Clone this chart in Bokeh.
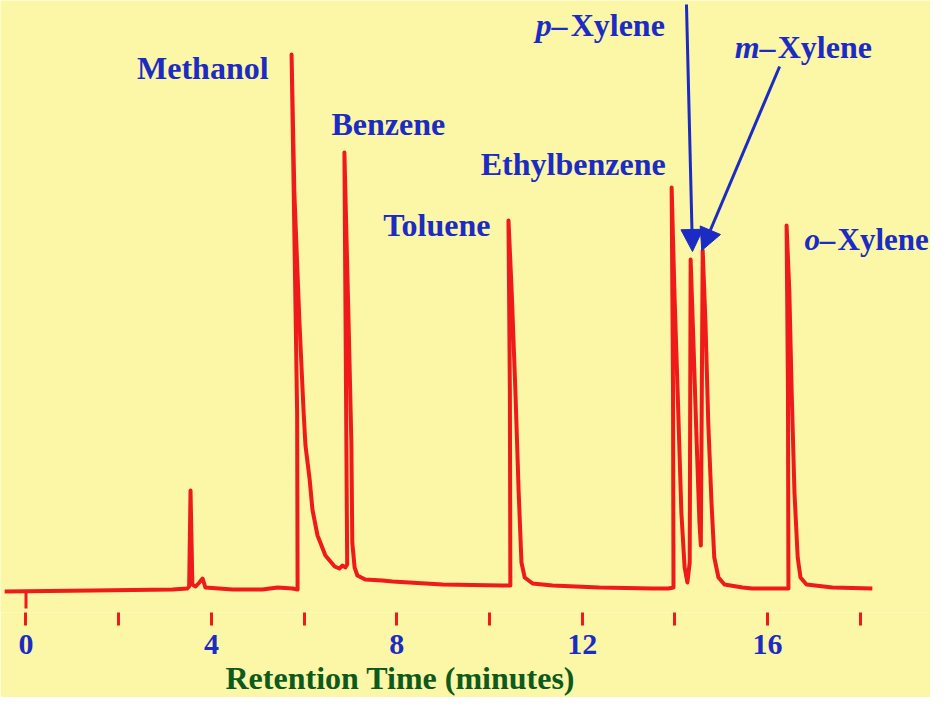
from bokeh.plotting import figure
from bokeh.models import Range1d, FixedTicker, Label, Arrow, NormalHead, Title
from bokeh.embed import file_html
from bokeh.resources import INLINE

# ---------------- data ----------------
# detector trace: retention time (min) and signal (arbitrary units, baseline = 0)
TRACE_TIME = [
    -0.46, 1.43, 3.16, 3.48, 3.52, 3.55, 3.59, 3.66, 3.74, 3.81, 3.87, 4.46, 5.10, 5.43, 5.75,
    5.86, 5.85, 5.73, 5.79, 5.90, 5.99, 6.03, 6.12, 6.18, 6.29, 6.46, 6.66, 6.76, 6.83, 6.89,
    6.93, 6.87, 6.96, 7.02, 7.04, 7.09, 7.15, 7.32, 7.69, 7.91, 8.99, 10.28,
    10.45, 10.44, 10.41, 10.48, 10.56, 10.63, 10.69, 10.76, 10.93, 11.36, 12.37, 13.52, 13.86,
    13.97, 13.96, 13.93, 13.99, 14.06, 14.14, 14.21, 14.27,
    14.32, 14.34, 14.40, 14.47, 14.53, 14.56,
    14.60, 14.66, 14.72, 14.79, 14.85, 14.94, 15.07, 15.46, 15.67,
    16.45, 16.44, 16.41, 16.47, 16.52, 16.58, 16.65, 16.71, 16.84, 17.40, 18.26,
]
TRACE_SIGNAL = [
    0, 1, 2, 3, 5, 101, 7, 5, 9, 13, 4, 2, 2, 4, 3,
    2, 179, 537, 399, 269, 179, 146, 112, 82, 56, 36, 25, 23, 26, 24,
    27, 439, 269, 149, 49, 24, 16, 12, 11, 10, 7, 6,
    6, 199, 371, 299, 199, 99, 29, 14, 8, 6, 4, 3, 3,
    4, 199, 404, 299, 199, 79, 24, 9,
    29, 332, 249, 149, 69, 46,
    341, 269, 169, 89, 34, 14, 7, 4, 3,
    3, 199, 366, 299, 199, 99, 34, 14, 7, 4, 3,
]

# identified peaks
PEAK_NAMES = ["Methanol", "Benzene", "Toluene", "Ethylbenzene", "p-Xylene", "m-Xylene", "o-Xylene"]
PEAK_TIMES = [5.73, 6.87, 10.41, 13.93, 14.34, 14.60, 16.41]
PEAK_HEIGHTS = [537, 439, 371, 404, 332, 341, 366]

# axis
TICK_VALUES = [0, 2, 4, 6, 8, 10, 12, 14, 16, 18]
TICK_LABELS = ["0", "", "4", "", "8", "", "12", "", "16", ""]
INJECTION_TIME = [0]
X_TITLE = "Retention Time (minutes)"

# ---------------- styling ----------------
YELLOW = "#fbf7a6"
RED = "#ef1a1a"
BLUE = "#1b2bc4"
GREEN = "#0d5a1c"
FONT = "Liberation Serif"

p = figure(width=930, height=697,
           x_range=Range1d(-0.55, 19.515), y_range=Range1d(-21, 591),
           output_backend="svg", toolbar_location=None, y_axis_location=None,
           min_border_left=0, min_border_right=0, min_border_top=0, min_border_bottom=85,
           background_fill_color=YELLOW, border_fill_color=YELLOW, outline_line_color=None)
p.grid.visible = False

ax = p.xaxis[0]
ax.ticker = FixedTicker(ticks=TICK_VALUES)
ax.major_label_overrides = {v: s for v, s in zip(TICK_VALUES, TICK_LABELS)}
ax.axis_line_color = None
ax.major_tick_line_color = RED
ax.major_tick_line_width = 3
ax.major_tick_out = 13
ax.major_tick_in = 0
ax.minor_tick_line_color = None
ax.major_label_text_font = FONT
ax.major_label_text_font_style = "bold"
ax.major_label_text_font_size = "30px"
ax.major_label_text_color = BLUE
ax.major_label_standoff = 9

# axis title, placed in the panel below the axis
p.add_layout(Title(text=X_TITLE, align="left", offset=225, standoff=2,
                   text_font=FONT, text_font_style="bold", text_font_size="32px",
                   text_color=GREEN), "below")

# injection marker from baseline down toward the axis
p.segment(x0=INJECTION_TIME, y0=[0], x1=INJECTION_TIME, y1=[-17],
          line_color=RED, line_width=3)

# chromatogram trace
p.line(TRACE_TIME, TRACE_SIGNAL, line_color=RED, line_width=4, line_join="round")

# peak labels: (peak index, text, style, size, align, x offset px, y offset px)
LABEL_LAYOUT = [
    (0, "Methanol", "bold", "32px", "right", -23, -13),
    (1, "Benzene", "bold", "32px", "left", -13, 29),
    (2, "Toluene", "bold", "32px", "right", -18, -4),
    (3, "Ethylbenzene", "bold", "32px", "right", -6, 24),
    (4, "p\u2013", "bold italic", "32px", "right", -123, 235),
    (4, "Xylene", "bold", "32px", "left", -120, 235),
    (5, "m\u2013", "bold italic", "32px", "right", 73, 204),
    (5, "Xylene", "bold", "32px", "left", 75, 204),
    (6, "o\u2013", "bold italic", "31px", "right", 49, -14),
    (6, "Xylene", "bold", "31px", "left", 51, -14),
]
for i, txt, style, size, align, dx, dy in LABEL_LAYOUT:
    p.add_layout(Label(x=PEAK_TIMES[i], y=PEAK_HEIGHTS[i], x_offset=dx, y_offset=dy,
                       text=txt, text_align=align, text_baseline="alphabetic",
                       text_font=FONT, text_font_style=style, text_font_size=size,
                       text_color=BLUE))

# arrows for the two closely eluting xylenes: (peak index, start t, start signal, tip dt, tip dsignal)
ARROW_LAYOUT = [
    (4, 14.25, 587, 0.04, 8),
    (5, 16.26, 525, -0.02, 0),
]
for i, xs, ys, dxt, dyt in ARROW_LAYOUT:
    p.add_layout(Arrow(end=NormalHead(size=22, fill_color=BLUE, line_color=BLUE, line_width=1),
                       x_start=xs, y_start=ys,
                       x_end=PEAK_TIMES[i] + dxt, y_end=PEAK_HEIGHTS[i] + dyt,
                       line_color=BLUE, line_width=3))

open("out.html", "w").write(file_html(p, INLINE))
